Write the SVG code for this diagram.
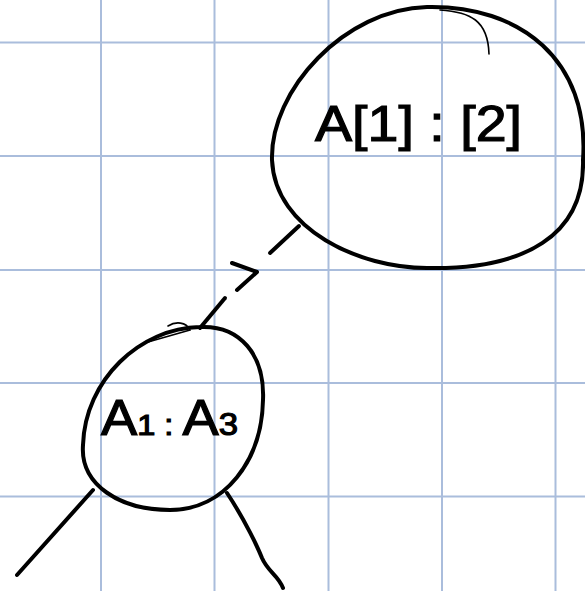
<svg xmlns="http://www.w3.org/2000/svg" width="585" height="591" viewBox="0 0 585 591">
<style>
.grid{stroke:#aabddc;stroke-width:2;fill:none}
.ink{stroke:#000;stroke-width:4;fill:none;stroke-linecap:round;stroke-linejoin:round}
.thin{stroke:#000;stroke-width:1.6;fill:none;stroke-linecap:round}
.lbl{font-family:"Liberation Sans",Arial,sans-serif;fill:#000;stroke:#000;stroke-width:1.2}
</style>
<rect width="585" height="591" fill="#fff"/>
<g id="grid" class="grid">
<path d="M101 0V591M214.5 0V591M328.5 0V591M442 0V591M555.5 0V591"/>
<path d="M0 42.5H585M0 156H585M0 270H585M0 383H585M0 496.5H585"/>
</g>
<g id="node-root">
<path class="ink" d="M427 7C520 5 590 60 583 160C585 235 525 270 427 268C360 268 275 230 272 160C270 90 345 9 427 7Z"/>
<path class="thin" d="M440 10C470 12 488 20 489 54"/>
<text class="lbl" x="315" y="141" font-size="50" textLength="207" lengthAdjust="spacingAndGlyphs">A[1] : [2]</text>
</g>
<g id="node-child">
<path class="ink" d="M200 327C240 325 265 355 263 400C262 460 225 510 170 510C120 510 80 485 83 445C85 380 140 328 200 327Z"/>
<path class="thin" d="M148 342L190 330C186 322 176 321 168 326"/>
<text class="lbl" x="101" y="435" font-size="50" textLength="137" lengthAdjust="spacingAndGlyphs">A<tspan font-size="30">1 : </tspan>A<tspan font-size="32">3</tspan></text>
</g>
<g id="connectors" class="ink">
<path d="M200 328L225 298"/>
<path d="M232 263L257 272L237 290"/>
<path d="M270 253L299 226"/>
<path d="M93 490L17 575"/>
<path d="M227 493C245 520 258 548 262 558C268 572 278 575 283 588"/>
</g>
</svg>
